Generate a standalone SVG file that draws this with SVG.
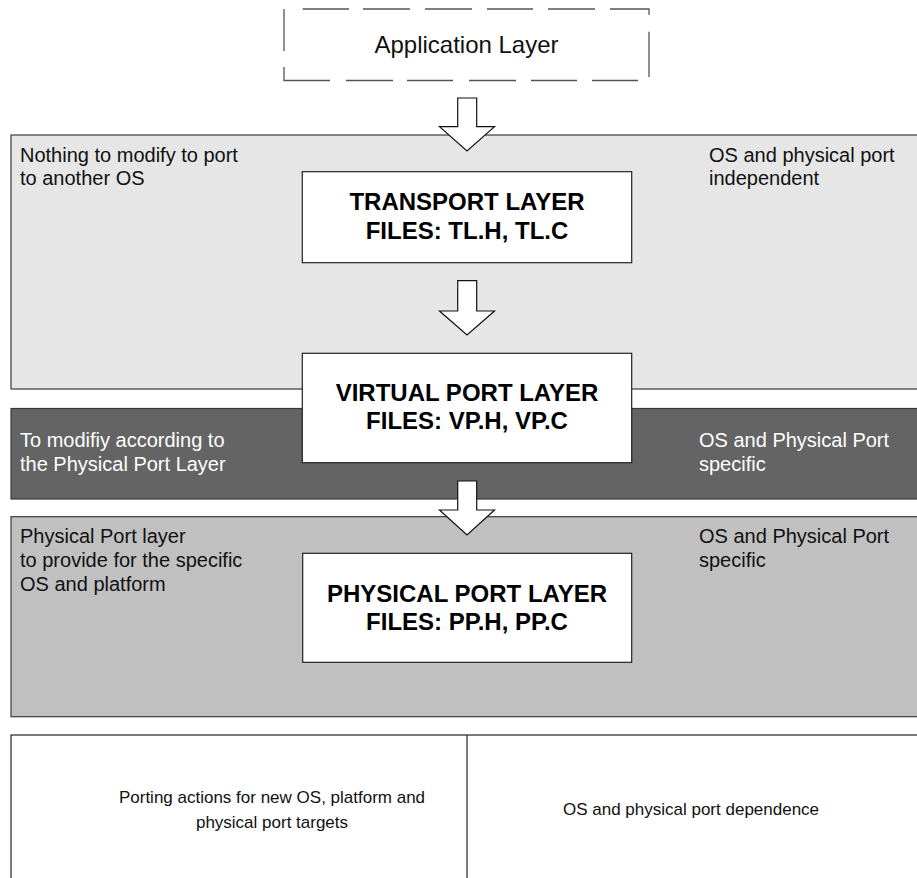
<svg xmlns="http://www.w3.org/2000/svg" width="917" height="878" viewBox="0 0 917 878">
  <style>
    text { font-family: "Liberation Sans", Arial, Helvetica, sans-serif; }
    .note { font-size: 20px; fill: #111; }
    .note-light { font-size: 20px; fill: #fff; }
    .title { font-size: 24px; font-weight: bold; fill: #000; text-anchor: middle; }
    .app { font-size: 24px; fill: #111; text-anchor: middle; }
    .cell { font-size: 17px; fill: #111; text-anchor: middle; }
    .panel { stroke: #3a3a3a; stroke-width: 1.2; }
    .box { fill: #fff; stroke: #222; stroke-width: 1.2; }
    .arrow { fill: #fff; stroke: #111; stroke-width: 1.2; stroke-linejoin: miter; }
  </style>

  <rect width="917" height="878" fill="#fff"/>

  <!-- layer bands -->
  <g id="band-independent">
    <rect class="panel" x="11" y="135" width="920" height="254" fill="#e6e6e6"/>
    <text class="note" x="20" y="161.5">Nothing to modify to port</text>
    <text class="note" x="20" y="185">to another OS</text>
    <text class="note" x="709" y="161.5">OS and physical port</text>
    <text class="note" x="709" y="185">independent</text>
  </g>

  <g id="band-virtual">
    <rect class="panel" x="11" y="408.5" width="920" height="90.5" fill="#646464"/>
    <text class="note-light" x="20" y="447">To modifiy according to</text>
    <text class="note-light" x="20" y="471">the Physical Port Layer</text>
    <text class="note-light" x="699" y="447">OS and Physical Port</text>
    <text class="note-light" x="699" y="471">specific</text>
  </g>

  <g id="band-physical">
    <rect class="panel" x="11" y="516.7" width="920" height="200" fill="#c0c0c0"/>
    <text class="note" x="20" y="543.3">Physical Port layer</text>
    <text class="note" x="20" y="567">to provide for the specific</text>
    <text class="note" x="20" y="590.7">OS and platform</text>
    <text class="note" x="699" y="543.3">OS and Physical Port</text>
    <text class="note" x="699" y="567">specific</text>
  </g>

  <!-- application layer (dashed outline) -->
  <g id="application-layer">
    <path fill="none" stroke="#555" stroke-width="1.3"
      d="M302.7 9 H349 M363 9 H410 M425 9 H472 M487 9 H533 M548 9 H595 M610 9 H649 V15
         M649 31.7 V77
         M638 80.5 H592 M577 80.5 H531 M516 80.5 H469 M453 80.5 H407 M393 80.5 H346 M330 80.5 H284 V67
         M284 51 V9"/>
    <text class="app" x="466.5" y="53.3">Application Layer</text>
  </g>

  <!-- connectors: hollow block arrows -->
  <g id="connectors">
    <path class="arrow" d="M457.7 98 H476.7 V126.7 H494.5 L467 151 L439.5 126.7 H457.7 Z"/>
    <path class="arrow" d="M457.7 280.7 H476.7 V311 H494.5 L467 335 L439.5 311 H457.7 Z"/>
    <path class="arrow" d="M457.7 481 H476.7 V510 H494.5 L467 535 L439.5 510 H457.7 Z"/>
  </g>

  <g id="transport-layer">
    <rect class="box" x="302.3" y="171.7" width="329.4" height="91"/>
    <text class="title" x="467" y="210">TRANSPORT LAYER</text>
    <text class="title" x="467" y="239.3">FILES: TL.H, TL.C</text>
  </g>

  <g id="virtual-port-layer">
    <rect class="box" x="302.3" y="353.3" width="329.4" height="109.4"/>
    <text class="title" x="467" y="400.7">VIRTUAL PORT LAYER</text>
    <text class="title" x="467" y="429.3">FILES: VP.H, VP.C</text>
  </g>

  <g id="physical-port-layer">
    <rect class="box" x="302.7" y="553.3" width="329" height="109"/>
    <text class="title" x="467" y="601.7">PHYSICAL PORT LAYER</text>
    <text class="title" x="467" y="630">FILES: PP.H, PP.C</text>
  </g>

  <!-- legend table -->
  <g id="legend">
    <rect x="11" y="735" width="920" height="160" fill="#fff" stroke="#222" stroke-width="1.2"/>
    <line x1="467" y1="735" x2="467" y2="878" stroke="#222" stroke-width="1.2"/>
    <text class="cell" x="272" y="803">Porting actions for new OS, platform and</text>
    <text class="cell" x="272" y="828">physical port targets</text>
    <text class="cell" x="691" y="815">OS and physical port dependence</text>
  </g>
</svg>
